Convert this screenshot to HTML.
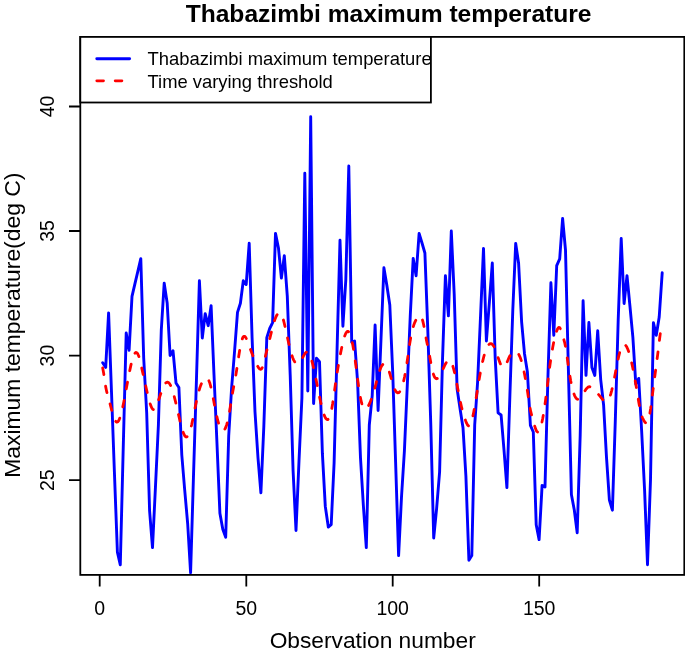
<!DOCTYPE html>
<html><head><meta charset="utf-8"><style>
html,body{margin:0;padding:0;background:#fff;}
svg{display:block;will-change:transform;}
text{font-family:"Liberation Sans",sans-serif;fill:#000;}
</style></head><body>
<svg width="685" height="655" viewBox="0 0 685 655">
<rect x="0" y="0" width="685" height="655" fill="#fff"/>
<defs><clipPath id="c"><rect x="80.3" y="36.9" width="604" height="538"/></clipPath></defs>
<g clip-path="url(#c)">
<polyline points="102.7,362.8 105.7,367.4 108.6,312.9 111.5,392.0 114.4,472.0 117.4,552.2 120.3,564.8 123.2,449.0 126.2,333.0 129.1,350.2 132.0,296.4 134.9,283.8 137.9,271.2 140.8,258.6 143.7,358.0 146.7,413.0 149.6,511.0 152.5,547.6 155.5,486.0 158.4,425.0 161.3,330.0 164.2,283.1 167.2,303.3 170.1,355.5 173.0,350.7 176.0,383.0 178.9,387.6 181.8,455.0 184.7,490.0 187.7,524.0 190.6,572.8 193.5,475.5 196.5,378.0 199.4,280.8 202.3,338.0 205.2,313.6 208.2,325.7 211.1,305.6 214.0,374.8 217.0,444.0 219.9,513.3 222.8,529.3 225.7,537.3 228.7,436.0 231.6,388.0 234.5,352.0 237.5,312.4 240.4,303.3 243.3,280.8 246.2,284.5 249.2,243.3 252.1,338.0 255.0,412.0 258.0,458.0 260.9,492.8 263.8,427.0 266.8,337.6 269.7,328.5 272.6,322.7 275.5,233.4 278.5,248.3 281.4,278.1 284.3,255.6 287.3,296.4 290.2,375.0 293.1,471.0 296.0,530.5 299.0,461.0 301.9,398.0 304.8,173.3 307.8,391.0 310.7,116.8 313.6,403.6 316.5,358.2 319.5,361.7 322.4,453.7 325.3,506.4 328.3,527.0 331.2,524.7 334.1,463.0 337.0,352.0 340.0,240.3 342.9,326.2 345.8,280.0 348.8,166.0 351.7,342.2 354.6,341.0 357.6,382.0 360.5,458.0 363.4,506.0 366.3,547.6 369.3,425.0 372.2,395.6 375.1,325.0 378.1,410.5 381.0,339.0 383.9,267.8 386.8,285.0 389.8,305.0 392.7,372.0 395.6,462.0 398.6,555.6 401.5,497.0 404.4,451.0 407.3,385.0 410.3,315.0 413.2,258.4 416.1,275.7 419.1,233.5 422.0,243.0 424.9,253.0 427.8,330.0 430.8,425.0 433.7,538.0 436.6,508.7 439.6,472.0 442.5,360.0 445.4,275.7 448.4,315.9 451.3,231.0 454.2,294.0 457.1,388.7 460.1,409.0 463.0,427.7 465.9,476.0 468.9,560.2 471.8,555.6 474.7,425.0 477.6,382.0 480.6,314.7 483.5,248.4 486.4,341.0 489.4,302.0 492.3,263.0 495.2,358.0 498.1,412.8 501.1,415.0 504.0,450.0 506.9,487.6 509.9,395.0 512.8,310.0 515.7,243.4 518.6,263.2 521.6,321.6 524.5,353.7 527.4,372.0 530.4,425.4 533.3,432.0 536.2,524.7 539.1,539.6 542.1,485.4 545.0,487.1 547.9,378.0 550.9,282.8 553.8,335.3 556.7,265.7 559.7,258.8 562.6,218.5 565.5,250.0 568.4,370.0 571.4,494.5 574.3,510.0 577.2,532.7 580.2,435.0 583.1,300.8 586.0,375.4 588.9,322.5 591.9,367.4 594.8,375.4 597.7,330.8 600.7,379.6 603.6,405.0 606.5,457.4 609.4,500.2 612.4,510.2 615.3,420.8 618.2,320.0 621.2,238.5 624.1,303.5 627.0,275.7 629.9,305.6 632.9,337.6 635.8,384.2 638.7,378.4 641.7,432.0 644.6,490.4 647.5,564.8 650.5,480.0 653.4,322.7 656.3,335.3 659.2,317.0 662.2,272.8" fill="none" stroke="#0000ff" stroke-width="2.9" stroke-linejoin="round" stroke-linecap="round"/>
<polyline points="102.7,367.9 103.7,373.4 104.7,380.5 105.7,386.9 106.7,391.7 107.7,395.4 108.7,398.8 109.7,402.5 110.7,406.3 111.7,410.1 112.7,413.7 113.7,416.9 114.7,419.5 115.7,421.3 116.7,422.2 117.7,422.0 118.7,420.7 119.7,418.4 120.7,415.4 121.7,411.6 122.7,407.3 123.7,402.5 124.7,397.4 125.7,392.0 126.7,386.5 127.7,381.1 128.7,375.8 129.7,370.8 130.7,366.1 131.7,361.9 132.7,358.4 133.7,355.5 134.7,353.5 135.7,352.5 136.7,352.6 137.7,353.7 138.7,356.0 139.7,359.4 140.7,363.5 141.7,368.0 142.7,372.5 143.7,376.9 144.7,381.3 145.7,385.8 146.7,390.3 147.7,394.6 148.7,398.7 149.7,402.4 150.7,405.4 151.7,407.8 152.7,409.2 153.7,409.7 154.7,409.0 155.7,407.5 156.7,405.3 157.7,402.6 158.7,399.7 159.7,396.7 160.7,393.8 161.7,391.0 162.7,388.5 163.7,386.2 164.7,384.4 165.7,383.0 166.7,382.3 167.7,382.1 168.7,382.7 169.7,383.9 170.7,385.7 171.7,388.1 172.7,391.1 173.7,394.5 174.7,398.3 175.7,402.4 176.7,406.7 177.7,411.1 178.7,415.5 179.7,419.8 180.7,424.0 181.7,427.7 182.7,431.0 183.7,433.7 184.7,435.7 185.7,436.8 186.7,437.0 187.7,436.2 188.7,434.6 189.7,432.0 190.7,428.6 191.7,424.5 192.7,419.9 193.7,414.9 194.7,409.8 195.7,404.7 196.7,400.0 197.7,395.6 198.7,391.7 199.7,388.3 200.7,385.4 201.7,383.0 202.7,381.1 203.7,379.6 204.7,378.7 205.7,378.2 206.7,378.2 207.7,378.9 208.7,380.3 209.7,382.7 210.7,386.3 211.7,390.6 212.7,395.5 213.7,400.8 214.7,406.1 215.7,411.3 216.7,416.0 217.7,420.2 218.7,423.7 219.7,426.5 220.7,428.7 221.7,430.1 222.7,430.7 223.7,430.5 224.7,429.4 225.7,427.5 226.7,424.7 227.7,421.0 228.7,416.2 229.7,410.6 230.7,404.2 231.7,397.9 232.7,391.9 233.7,386.6 234.7,381.5 235.7,376.0 236.7,369.7 237.7,363.0 238.7,356.4 239.7,350.2 240.7,344.8 241.7,340.6 242.7,337.7 243.7,336.4 244.7,336.3 245.7,337.4 246.7,339.3 247.7,341.7 248.7,344.5 249.7,347.3 250.7,350.0 251.7,352.7 252.7,355.3 253.7,357.8 254.7,360.1 255.7,362.3 256.7,364.4 257.7,366.3 258.7,367.9 259.7,369.0 260.7,369.3 261.7,368.7 262.7,366.8 263.7,363.5 264.7,359.3 265.7,355.1 266.7,351.0 267.7,347.0 268.7,343.0 269.7,338.9 270.7,334.8 271.7,330.7 272.7,326.9 273.7,323.3 274.7,320.1 275.7,317.4 276.7,315.3 277.7,313.7 278.7,312.9 279.7,312.8 280.7,313.5 281.7,315.0 282.7,317.6 283.7,321.0 284.7,325.1 285.7,329.6 286.7,334.2 287.7,338.7 288.7,343.2 289.7,347.4 290.7,351.4 291.7,354.8 292.7,357.8 293.7,360.1 294.7,361.8 295.7,363.0 296.7,363.6 297.7,363.7 298.7,363.2 299.7,362.4 300.7,361.1 301.7,359.4 302.7,357.5 303.7,355.6 304.7,353.9 305.7,352.6 306.7,351.9 307.7,351.9 308.7,352.9 309.7,354.7 310.7,357.2 311.7,360.4 312.7,364.2 313.7,368.4 314.7,373.0 315.7,377.8 316.7,382.7 317.7,387.8 318.7,392.8 319.7,397.6 320.7,402.2 321.7,406.5 322.7,410.4 323.7,413.7 324.7,416.4 325.7,418.3 326.7,419.4 327.7,419.6 328.7,418.8 329.7,416.8 330.7,413.6 331.7,409.1 332.7,403.3 333.7,396.6 334.7,389.4 335.7,382.2 336.7,375.4 337.7,369.2 338.7,363.4 339.7,357.9 340.7,352.6 341.7,347.7 342.7,343.2 343.7,339.2 344.7,336.0 345.7,333.5 346.7,331.9 347.7,331.3 348.7,331.9 349.7,333.5 350.7,336.2 351.7,339.9 352.7,344.6 353.7,350.4 354.7,356.9 355.7,364.2 356.7,371.9 357.7,379.7 358.7,387.1 359.7,393.7 360.7,399.2 361.7,403.3 362.7,406.3 363.7,408.1 364.7,409.0 365.7,409.1 366.7,408.4 367.7,407.1 368.7,405.3 369.7,403.2 370.7,400.7 371.7,398.1 372.7,395.2 373.7,392.1 374.7,388.6 375.7,384.8 376.7,381.0 377.7,377.2 378.7,373.7 379.7,370.5 380.7,367.9 381.7,365.9 382.7,364.6 383.7,364.0 384.7,364.0 385.7,364.7 386.7,365.9 387.7,367.8 388.7,370.2 389.7,373.2 390.7,376.7 391.7,380.3 392.7,383.8 393.7,386.9 394.7,389.3 395.7,391.1 396.7,392.3 397.7,392.9 398.7,392.7 399.7,391.8 400.7,390.2 401.7,387.8 402.7,384.7 403.7,380.8 404.7,376.2 405.7,370.8 406.7,364.6 407.7,357.8 408.7,350.7 409.7,343.8 410.7,337.8 411.7,332.8 412.7,328.6 413.7,325.3 414.7,322.6 415.7,320.4 416.7,318.6 417.7,317.1 418.7,316.1 419.7,315.6 420.7,316.1 421.7,317.7 422.7,320.6 423.7,325.0 424.7,330.4 425.7,336.1 426.7,341.4 427.7,346.4 428.7,351.2 429.7,356.4 430.7,362.0 431.7,367.5 432.7,371.9 433.7,375.1 434.7,377.3 435.7,378.4 436.7,378.8 437.7,378.4 438.7,377.4 439.7,376.0 440.7,374.1 441.7,372.1 442.7,369.8 443.7,367.6 444.7,365.4 445.7,363.5 446.7,361.9 447.7,360.7 448.7,360.1 449.7,360.2 450.7,361.1 451.7,362.9 452.7,365.6 453.7,369.2 454.7,373.3 455.7,378.0 456.7,383.0 457.7,388.2 458.7,393.4 459.7,398.5 460.7,403.3 461.7,407.7 462.7,411.6 463.7,415.1 464.7,418.1 465.7,420.9 466.7,423.4 467.7,425.2 468.7,426.0 469.7,425.7 470.7,424.0 471.7,421.1 472.7,417.1 473.7,412.2 474.7,406.7 475.7,400.8 476.7,394.5 477.7,388.2 478.7,382.1 479.7,376.2 480.7,370.7 481.7,365.7 482.7,361.1 483.7,357.0 484.7,353.4 485.7,350.4 486.7,347.9 487.7,346.0 488.7,344.7 489.7,343.9 490.7,343.6 491.7,343.9 492.7,344.8 493.7,346.1 494.7,348.1 495.7,350.5 496.7,353.4 497.7,356.4 498.7,359.3 499.7,362.1 500.7,364.5 501.7,366.2 502.7,367.2 503.7,367.3 504.7,366.6 505.7,365.2 506.7,363.1 507.7,360.7 508.7,358.3 509.7,356.1 510.7,354.4 511.7,353.2 512.7,352.4 513.7,351.9 514.7,351.6 515.7,351.7 516.7,352.1 517.7,353.0 518.7,354.3 519.7,356.3 520.7,358.8 521.7,362.0 522.7,365.7 523.7,370.1 524.7,374.9 525.7,380.4 526.7,386.3 527.7,392.7 528.7,399.6 529.7,406.2 530.7,411.4 531.7,415.2 532.7,418.7 533.7,422.4 534.7,426.0 535.7,429.2 536.7,431.3 537.7,432.2 538.7,431.8 539.7,430.1 540.7,427.2 541.7,423.4 542.7,418.5 543.7,412.9 544.7,406.3 545.7,399.0 546.7,391.0 547.7,382.8 548.7,374.6 549.7,366.9 550.7,359.8 551.7,353.3 552.7,347.5 553.7,342.3 554.7,337.8 555.7,334.0 556.7,330.9 557.7,328.6 558.7,327.4 559.7,327.6 560.7,329.4 561.7,332.3 562.7,335.7 563.7,339.1 564.7,342.7 565.7,347.6 566.7,354.1 567.7,361.3 568.7,368.4 569.7,374.9 570.7,380.7 571.7,385.7 572.7,389.9 573.7,393.2 574.7,395.8 575.7,397.7 576.7,398.9 577.7,399.3 578.7,399.2 579.7,398.5 580.7,397.5 581.7,396.1 582.7,394.6 583.7,392.9 584.7,391.3 585.7,389.7 586.7,388.4 587.7,387.4 588.7,386.8 589.7,386.7 590.7,387.1 591.7,387.9 592.7,389.0 593.7,390.1 594.7,391.1 595.7,392.0 596.7,392.9 597.7,393.8 598.7,394.7 599.7,395.9 600.7,397.1 601.7,398.3 602.7,399.5 603.7,400.4 604.7,401.1 605.7,401.4 606.7,401.2 607.7,400.5 608.7,399.2 609.7,397.1 610.7,394.2 611.7,390.6 612.7,386.3 613.7,381.6 614.7,376.5 615.7,371.2 616.7,366.0 617.7,361.0 618.7,356.4 619.7,352.4 620.7,349.1 621.7,346.8 622.7,345.2 623.7,344.5 624.7,344.6 625.7,345.4 626.7,346.8 627.7,349.0 628.7,351.7 629.7,354.9 630.7,358.7 631.7,362.9 632.7,367.5 633.7,372.5 634.7,377.9 635.7,383.5 636.7,389.4 637.7,395.6 638.7,401.7 639.7,407.5 640.7,412.4 641.7,415.9 642.7,418.3 643.7,420.2 644.7,421.9 645.7,422.9 646.7,423.0 647.7,421.8 648.7,419.1 649.7,414.5 650.7,408.2 651.7,400.7 652.7,392.7 653.7,384.6 654.7,377.0 655.7,369.5 656.7,362.1 657.7,354.4 658.7,346.3 659.7,338.0 660.7,330.4 661.7,324.5" fill="none" stroke="#ff0000" stroke-width="2.8" stroke-dasharray="6.7 11.7" stroke-linejoin="round" stroke-linecap="round"/>
</g>
<g stroke="#000" stroke-width="1.8" fill="none">
<rect x="80.3" y="36.9" width="604" height="538"/>
<path d="M99.7 574.9V586.5M246.3 574.9V586.5M392.7 574.9V586.5M539.2 574.9V586.5"/>
<path d="M80.3 106.5H69M80.3 231H69M80.3 355.6H69M80.3 480.2H69"/>
</g>
<g font-size="19.5" text-anchor="middle">
<text x="99.7" y="614.6">0</text>
<text x="246.3" y="614.6">50</text>
<text x="392.7" y="614.6">100</text>
<text x="539.2" y="614.6">150</text>
<text transform="translate(53.6,106.5) rotate(-90)">40</text>
<text transform="translate(53.6,231) rotate(-90)">35</text>
<text transform="translate(53.6,355.6) rotate(-90)">30</text>
<text transform="translate(53.6,480.2) rotate(-90)">25</text>
</g>
<text x="388.6" y="22.2" font-size="24.6" font-weight="bold" text-anchor="middle">Thabazimbi maximum temperature</text>
<text x="372.7" y="648" font-size="22.75" text-anchor="middle">Observation number</text>
<text transform="translate(19.5,325.2) rotate(-90)" font-size="22.9" text-anchor="middle">Maximum temperature(deg C)</text>
<rect x="80.3" y="36.9" width="350.6" height="65.6" fill="#fff" stroke="#000" stroke-width="1.8"/>
<line x1="96.8" y1="58.8" x2="129.6" y2="58.8" stroke="#0000ff" stroke-width="2.9" stroke-linecap="round"/>
<line x1="96.8" y1="80.8" x2="129.6" y2="80.8" stroke="#ff0000" stroke-width="2.8" stroke-dasharray="6.7 11.7" stroke-linecap="round"/>
<g font-size="18.4">
<text x="147.5" y="65.2">Thabazimbi maximum temperature</text>
<text x="147.5" y="87.5">Time varying threshold</text>
</g>
</svg>
</body></html>
